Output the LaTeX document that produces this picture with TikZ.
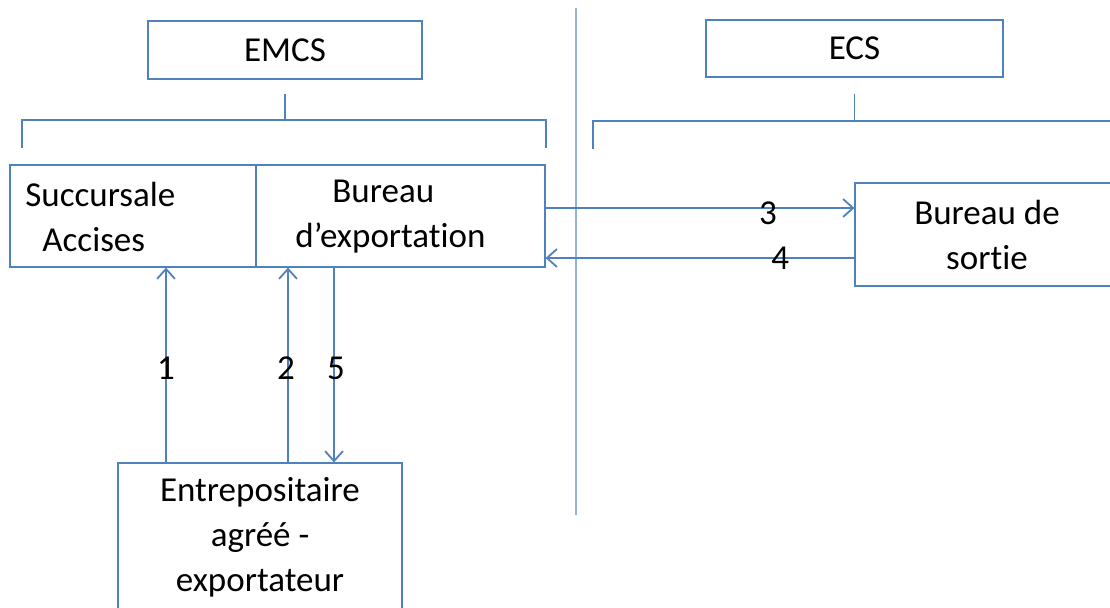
\documentclass[tikz,border=0pt]{standalone}
\usepackage{fontspec}
\setmainfont{Carlito}[Ligatures=NoCommon]
\usetikzlibrary{arrows.meta}
\definecolor{ofblue}{HTML}{4F81BD}
\definecolor{ofpale}{HTML}{95B3D7}
\begin{document}
\begin{tikzpicture}[x=0.5pt, y=-0.5pt,
  flowbox/.style = {draw=ofblue, line width=0.6pt, inner sep=0pt},
  flowtree/.style = {draw=ofblue, line width=0.6pt},
  flowarrow/.style = {draw=ofblue, line width=0.9pt, -{Straight Barb[length=5pt, width=9pt]}},
  flowlbl/.style = {font=\fontsize{17.5}{22.5}\selectfont, align=center, inner sep=0pt},
  flownum/.style = {font=\fontsize{17.5}{22.5}\selectfont, inner sep=0pt}
]
  \useasboundingbox (0,0) rectangle (1110,608);
  \clip (0,0) rectangle (1110,608);
  % systemes
  \node[flowbox, flowlbl, minimum width=137pt, minimum height=29pt] (emcs) at (285,50) {EMCS};
  \node[flowbox, flowlbl, minimum width=148.5pt, minimum height=28.5pt] (ecs) at (854.5,48.5) {ECS};
  % accolades
  \draw[flowtree] ([yshift=-7pt]emcs.south) -- ++(0,27);
  \coordinate (emcsL) at (22,148);
  \coordinate (emcsR) at (546,148);
  \draw[flowtree] (emcsL) -- ++(0,-28) -| (emcsR);
  \draw[flowtree] ([yshift=-8pt]ecs.south) -- ++(0,28);
  \coordinate (ecsL) at (593,149);
  \draw[flowtree] (ecsL) -- ++(0,-28) -- ++(530,0);
  % frontiere
  \draw[ofpale, line width=0.7pt] (576,8) -- (576,515);
  % bureaux
  \node[flowbox, minimum width=123pt, minimum height=51pt] (succ) at (133,216) {};
  \node[flowbox, minimum width=144.5pt, minimum height=51pt] (bexp) at (400.5,216) {};
  \node[flowlbl, align=left, anchor=west] (succtxt) at (25,217) {Succursale\\\hspace*{8.5pt}Accises};
  \node[flowlbl, align=left, anchor=west] (bexptxt) at (295,217) {\hspace*{18.5pt}Bureau\\d’exportation};
  \node[flowbox, flowlbl, minimum width=132pt, minimum height=51.5pt] (sortie) at (987,234.5) {Bureau de\\sortie};
  \node[flowbox, flowlbl, minimum width=142pt, minimum height=74pt] (entr) at (260,537) {Entrepositaire\\agréé -\\exportateur};
  % echanges
  \coordinate (out3) at ([yshift=4pt]bexp.east);
  \draw[flowarrow] (out3) -- (out3 -| sortie.west) node[flownum, pos=0.72, yshift=-2.5pt] (n3) {3};
  \coordinate (out4) at ([yshift=-11.75pt]sortie.west);
  \draw[flowarrow] (out4) -- (out4 -| bexp.east) node[flownum, pos=0.24] (n4) {4};
  \coordinate (out1) at ([xshift=-47pt]entr.north);
  \draw[flowarrow] (out1) -- (out1 |- succ.south) node[flownum, pos=0.485] (n1) {1};
  \coordinate (out2) at ([xshift=14pt]entr.north);
  \draw[flowarrow] (out2) -- (out2 |- bexp.south) node[flownum, pos=0.485, xshift=-1pt] (n2) {2};
  \coordinate (in5) at ([xshift=37pt]entr.north);
  \draw[flowarrow] (in5 |- bexp.south) -- (in5) node[flownum, pos=0.515, xshift=1pt] (n5) {5};
\end{tikzpicture}
\end{document}
